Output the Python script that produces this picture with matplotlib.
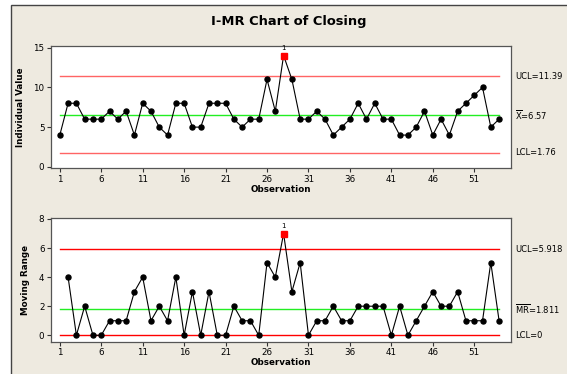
import matplotlib
matplotlib.use("Agg")
import matplotlib.pyplot as plt
from matplotlib.patches import Rectangle
from matplotlib.transforms import blended_transform_factory

# closing values, one per observation
closing = [4, 8, 8, 6, 6, 6, 7, 6, 7, 4,
           8, 7, 5, 4, 8, 8, 5, 5, 8, 8,
           8, 6, 5, 6, 6, 11, 7, 14, 11, 6,
           6, 7, 6, 4, 5, 6, 8, 6, 8, 6,
           6, 4, 4, 5, 7, 4, 6, 4, 7, 8,
           9, 10, 5, 6]
obs = list(range(1, len(closing) + 1))
mr = [abs(b - a) for a, b in zip(closing[:-1], closing[1:])]
mr_obs = obs[1:]

i_limits = {"ucl": 11.39, "cl": 6.57, "lcl": 1.76}
mr_limits = {"ucl": 5.918, "cl": 1.811, "lcl": 0}
i_labels = ["UCL=11.39", r"$\overline{\mathrm{X}}$=6.57", "LCL=1.76"]
mr_labels = ["UCL=5.918", r"$\overline{\mathrm{MR}}$=1.811", "LCL=0"]
xticks = [1, 6, 11, 16, 21, 26, 31, 36, 41, 46, 51]

BG = "#eeeae0"
RED = "#ff6464"
GREEN = "#22ee22"

plt.rcParams["font.family"] = "DejaVu Sans"
plt.rcParams["mathtext.fontset"] = "dejavusans"

fig = plt.figure(figsize=(5.67, 3.74), dpi=100)
fig.patch.set_facecolor("white")
fig.patches.append(Rectangle((11 / 567, -0.1), 1.1, 1.1 - 5 / 374, transform=fig.transFigure,
                             facecolor=BG, edgecolor="#444444", linewidth=1.0, zorder=-10))
fig.text(289 / 567, 1 - 21 / 374, "I-MR Chart of Closing", ha="center", va="center",
         fontsize=9.4, fontweight="bold")


def panel(rect, x, y, limits, labels, ylim, yticks, ylabel, lim_color):
    ax = fig.add_axes(rect)
    ax.set_facecolor("white")
    xs = [obs[0], obs[-1]]
    for key in ("ucl", "lcl"):
        ax.plot(xs, [limits[key]] * 2, color=lim_color, lw=1.0, zorder=1)
    ax.plot(xs, [limits["cl"]] * 2, color=GREEN, lw=1.0, zorder=1)
    ax.plot(x, y, color="black", lw=0.8, zorder=2)
    ok = [(a, b) for a, b in zip(x, y) if limits["lcl"] <= b <= limits["ucl"]]
    bad = [(a, b) for a, b in zip(x, y) if not limits["lcl"] <= b <= limits["ucl"]]
    ax.plot([p[0] for p in ok], [p[1] for p in ok], "o", color="black", ms=3.6, zorder=3)
    ax.plot([p[0] for p in bad], [p[1] for p in bad], "s", color="red", ms=3.8, zorder=4)
    for a, b in bad:
        ax.annotate("1", (a, b), xytext=(0, 3), textcoords="offset points",
                    ha="center", va="bottom", fontsize=5)
    tr = blended_transform_factory(ax.transAxes, ax.transData)
    for key, lab in zip(("ucl", "cl", "lcl"), labels):
        ax.text(1.009, limits[key], lab, transform=tr, ha="left", va="center", fontsize=6)
    ax.set_xlim(-0.1, 55.4)
    ax.set_ylim(*ylim)
    ax.set_xticks(xticks)
    ax.set_yticks(yticks)
    ax.tick_params(labelsize=6.3, length=3, width=0.8, pad=1.5, color="#333333")
    for s in ax.spines.values():
        s.set_color("#555555")
        s.set_linewidth(0.9)
    ax.set_xlabel("Observation", fontsize=6.3, fontweight="bold", labelpad=1)
    ax.set_ylabel(ylabel, fontsize=6.3, fontweight="bold", labelpad=6)
    return ax


panel([0.0894, 0.5495, 0.8113, 0.3275], obs, closing, i_limits, i_labels,
      (-0.2, 15.2), [0, 5, 10, 15], "Individual Value", RED)
panel([0.0894, 0.0864, 0.8113, 0.330], mr_obs, mr, mr_limits, mr_labels,
      (-0.44, 8.05), [0, 2, 4, 6, 8], "Moving Range", "red")

fig.savefig("out.png", dpi=100, facecolor=fig.get_facecolor())
